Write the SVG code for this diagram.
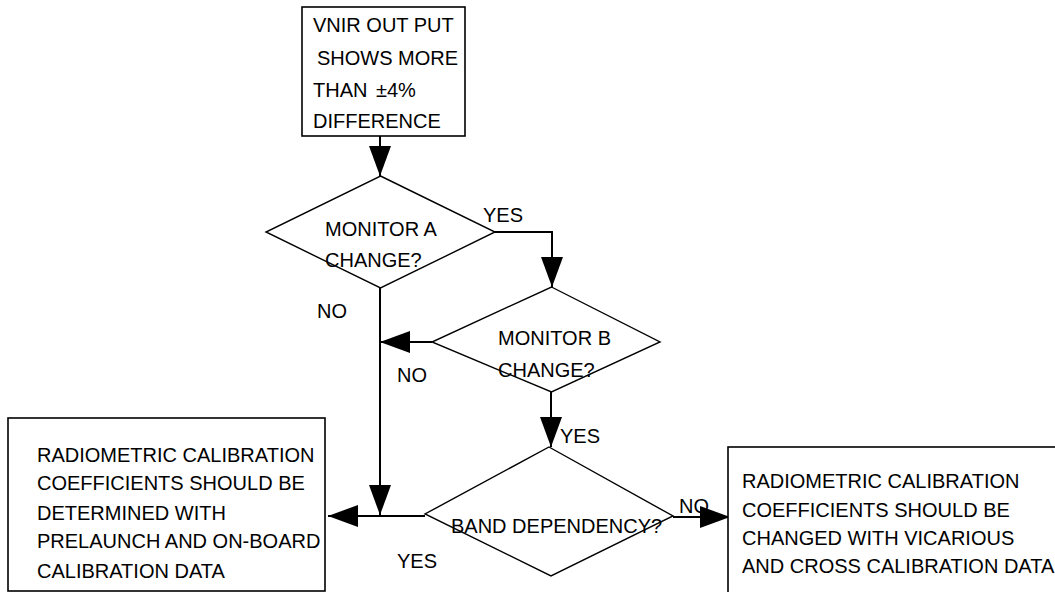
<svg xmlns="http://www.w3.org/2000/svg" width="1055" height="592" viewBox="0 0 1055 592">
<style>
text{font-family:"Liberation Sans",Arial,sans-serif;font-size:20px;fill:#000}
.box{fill:#fff;stroke:#000;stroke-width:1.6}
.dia{fill:#fff;stroke:#000;stroke-width:1.4}
.con{fill:none;stroke:#000;stroke-width:2}
</style>
<defs>
<marker id="ah" markerUnits="userSpaceOnUse" markerWidth="30" markerHeight="22" refX="30" refY="11" orient="auto">
<path d="M0,0 L30,11 L0,22 z" fill="#000"/>
</marker>
</defs>
<rect width="1055" height="592" fill="#fff"/>
<g id="connectors">
<path class="con" d="M380,136 V176" marker-end="url(#ah)"/>
<path class="con" d="M489,232 H552 V287" marker-end="url(#ah)"/>
<path class="con" d="M432,342 H380" marker-end="url(#ah)"/>
<path class="con" d="M380,287 V515" marker-end="url(#ah)"/>
<path class="con" d="M551,392 V447" marker-end="url(#ah)"/>
<path class="con" d="M425,516 H328" marker-end="url(#ah)"/>
<path class="con" d="M673,517 H730" marker-end="url(#ah)"/>
<text x="483" y="222">YES</text>
<text x="317" y="318">NO</text>
<text x="397" y="382">NO</text>
<text x="560" y="443">YES</text>
<text x="397" y="568">YES</text>
<text x="679" y="513">NO</text>
</g>
<g id="start">
<rect class="box" x="302" y="7" width="163" height="129"/>
<text x="313" y="32">VNIR OUT PUT</text>
<text x="317" y="65">SHOWS MORE</text>
<text x="313" y="97">THAN</text>
<text x="376" y="97">±4%</text>
<text x="313" y="128">DIFFERENCE</text>
</g>
<g id="monitorA">
<polygon class="dia" points="380.5,176 495,232 380.5,288 266,232"/>
<text x="325" y="236">MONITOR A</text>
<text x="325" y="267">CHANGE?</text>
</g>
<g id="monitorB">
<polygon class="dia" points="551.5,287 660,342 551.5,392 432,342"/>
<text x="498" y="345">MONITOR B</text>
<text x="498" y="377">CHANGE?</text>
</g>
<g id="band">
<polygon class="dia" points="549,447 673,516 551,576 425,514"/>
<text x="451" y="533">BAND DEPENDENCY?</text>
</g>
<g id="prelaunch">
<rect class="box" x="8" y="418" width="317" height="173"/>
<text x="37" y="462">RADIOMETRIC CALIBRATION</text>
<text x="37" y="490">COEFFICIENTS SHOULD BE</text>
<text x="37" y="520">DETERMINED WITH</text>
<text x="37" y="548">PRELAUNCH AND ON-BOARD</text>
<text x="37" y="578">CALIBRATION DATA</text>
</g>
<g id="vicarious">
<rect class="box" x="728" y="447" width="340" height="160"/>
<text x="742" y="488">RADIOMETRIC CALIBRATION</text>
<text x="742" y="517">COEFFICIENTS SHOULD BE</text>
<text x="742" y="545">CHANGED WITH VICARIOUS</text>
<text x="742" y="573">AND CROSS CALIBRATION DATA</text>
</g>
</svg>
